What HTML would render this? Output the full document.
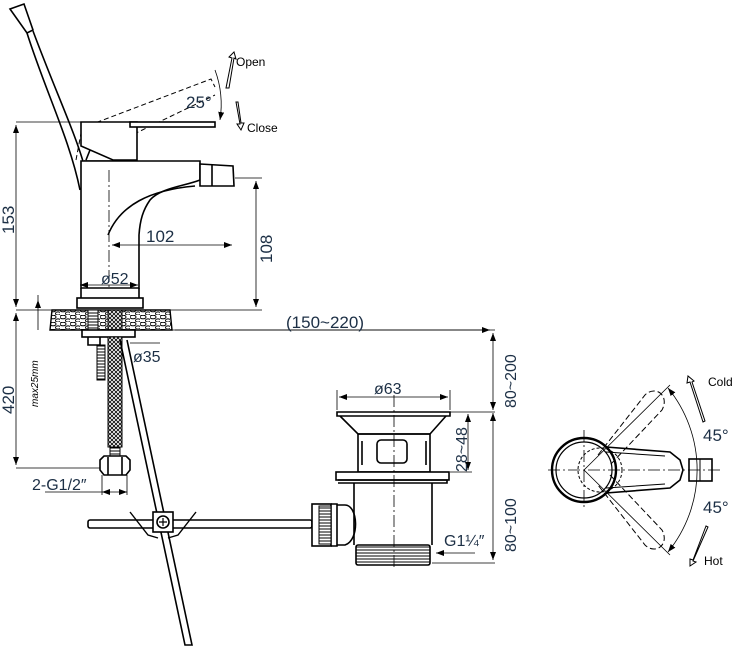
<!DOCTYPE html>
<html><head><meta charset="utf-8"><style>
html,body{margin:0;padding:0;background:#fff;}
svg{display:block;}
text{font-family:"Liberation Sans",sans-serif;fill:#1c2f45;}
</style></head><body>
<svg width="732" height="647" viewBox="0 0 732 647" xmlns="http://www.w3.org/2000/svg">
<defs>
<marker id="a" markerWidth="8" markerHeight="6" refX="8" refY="3" orient="auto-start-reverse" markerUnits="userSpaceOnUse"><path d="M0,0 L8,3 L0,6 z" fill="#000"/></marker>
<pattern id="st" width="10" height="7" patternUnits="userSpaceOnUse"><rect width="10" height="7" fill="#fff"/><ellipse cx="3" cy="2" rx="3" ry="1.8" fill="none" stroke="#000" stroke-width="1"/><ellipse cx="8" cy="5.5" rx="2.5" ry="1.6" fill="none" stroke="#000" stroke-width="1"/></pattern>
<pattern id="br" width="4" height="4" patternUnits="userSpaceOnUse"><rect width="4" height="4" fill="#fff"/><path d="M0,4 L4,0 M0,0 L4,4" stroke="#000" stroke-width="0.8"/></pattern>
<pattern id="th" width="4" height="3" patternUnits="userSpaceOnUse"><rect width="4" height="3" fill="#fff"/><path d="M0,1 H4" stroke="#000" stroke-width="1"/></pattern>
</defs>
<g fill="none" stroke="#000" stroke-width="1.6">
<!-- lever handle -->
<path d="M10,9 L24,4 L33,30 L27,33 Z" fill="#fff"/>
<path d="M27,33 C45,90 70,140 80,190 M33,31 C55,90 76,135 84,165"/>
<!-- dashed rotated lever -->
<path d="M76,160 L82,128 L211,79 L215,87 M105,148 L215,95" stroke-dasharray="5,3" stroke-width="1"/>
<path d="M100,150 L135,140" stroke-dasharray="5,3" stroke-width="1"/>
<!-- lever box -->
<path d="M81,122 L137,122 L137,160 L113,160 L81,146 Z" fill="#fff"/>
<rect x="130" y="122" width="85" height="5" fill="#fff"/>
<path d="M86,160 L90,150 M84,161 L135,161"/>
<!-- body -->
<path d="M81,161 L200,161 L200,180 C185,186 160,188 150,200 C143,210 140,220 139,235 L139,288 L81,288 Z" fill="#fff"/>
<path d="M108,235 C120,205 150,190 195,186"/>
<path d="M200,164 L233,166 L234,186 L200,186 Z" fill="#fff"/>
<path d="M212,165 L212,186"/>
<rect x="77" y="298" width="66" height="10" fill="#fff"/>
<path d="M81,288 L81,298 M139,288 L139,298"/>
<!-- stone -->
<path d="M52,310 L170,310 L172,330 L50,330 Z" fill="url(#st)" stroke-width="1.4"/>
<rect x="88" y="310" width="10" height="20" fill="url(#th)" stroke-width="1"/>
<rect x="108" y="310" width="14" height="20" fill="url(#br)" stroke-width="1"/>
<rect x="82" y="330" width="53" height="7" fill="#fff"/>
<path d="M88,337 L88,345 L100,345 L100,337"/>
<rect x="97" y="345" width="8" height="35" fill="url(#th)" stroke-width="1"/>
<!-- braided hose -->
<rect x="108" y="337" width="14" height="110" fill="url(#br)" stroke-width="1"/>
<rect x="110" y="447" width="10" height="10" fill="url(#th)" stroke-width="1"/>
<path d="M100,460 L104,456 L126,456 L130,460 L130,470 L126,475 L104,475 L100,470 Z" fill="#fff"/>
<path d="M108,457 L108,475 M122,457 L122,475"/>
<!-- diagonal rod -->
<path d="M120,340 L185,645 L192,645 L127,340"/>
<!-- horizontal rod -->
<rect x="88" y="520" width="224" height="8" rx="2" fill="#fff"/>
<!-- clamp -->
<path d="M130,512 L148,535 L158,538 M196,512 L178,535 L168,538" stroke-width="1.4"/>
<rect x="153" y="512" width="20" height="20" fill="#fff"/>
<circle cx="163" cy="522" r="6"/>
<path d="M159,522 H167 M163,518 V526" stroke-width="1.2"/>
<!-- drain -->
<path d="M337,412 L450,412 L450,416 L337,416 Z" fill="#fff"/>
<path d="M340,416 L358,434 L430,434 L446,416"/>
<rect x="358" y="434" width="72" height="38"/>
<rect x="377" y="440" width="30" height="23" rx="4"/>
<path d="M362,441 L362,465 M426,441 L426,465"/>
<rect x="336" y="472" width="113" height="8" fill="#fff"/>
<path d="M338,480 L447,480 L447,483 L338,483"/>
<path d="M354,483 L354,545 M432,483 L432,545"/>
<rect x="356" y="545" width="74" height="20" rx="2" fill="url(#th)"/>
<path d="M337,505 L345,505 C358,505 360,540 345,545 L337,545"/>
<rect x="312" y="504" width="19" height="42" fill="#fff"/>
<rect x="319" y="506" width="12" height="38" fill="url(#th)" stroke-width="1"/>
<path d="M331,504 L337,504 L337,546 L331,546"/>
<!-- top view -->
<circle cx="584" cy="470" r="32" stroke-width="2.4"/>
<circle cx="584" cy="470" r="28" stroke-width="1.2"/>
<path d="M606,447 L670,452 L680,460 L683,470 L680,480 L670,488 L606,493"/>
<path d="M606,452 L665,456 M606,488 L665,484" stroke-width="1"/>
<rect x="689" y="459" width="23" height="22" fill="#fff"/>
<path d="M700,459 L700,481" stroke-width="1"/>
<circle cx="600" cy="470" r="22" stroke-dasharray="3,2" stroke-width="1"/>
<path d="M598,455 L645,395 C655,385 670,395 662,410 L610,465 M610,475 L662,530 C670,545 655,555 645,545 L598,485" stroke-dasharray="6,3" stroke-width="1"/>
<path d="M584,470 L670,385 M584,470 L670,555" stroke-width="0.8"/>
<path d="M668,388 A130,130 0 0 1 668,552" stroke-width="0.8" marker-start="url(#a)" marker-end="url(#a)"/>
</g>
<!-- centerlines & dim lines -->
<g fill="none" stroke="#000" stroke-width="0.8">
<path d="M109,170 V290 M584,430 V510 M548,470 H720 M394,395 V570" stroke-dasharray="12,3,2,3"/>
<path d="M16,122 H81 M16,310 H52 M16,468 H100 M170,310 H262 M235,178 H262 M170,330 H495 M430,412 H495 M432,563 H495"/>
<path d="M16,125 V307" marker-start="url(#a)" marker-end="url(#a)"/>
<path d="M16,313 V465" marker-start="url(#a)" marker-end="url(#a)"/>
<path d="M256,181 V307" marker-start="url(#a)" marker-end="url(#a)"/>
<path d="M112,245 H232" marker-start="url(#a)" marker-end="url(#a)"/>
<path d="M80,285 H138" marker-start="url(#a)" marker-end="url(#a)"/>
<path d="M175,330 H490" marker-end="url(#a)"/>
<path d="M493,333 V410" marker-start="url(#a)" marker-end="url(#a)"/>
<path d="M493,413 V560" marker-start="url(#a)" marker-end="url(#a)"/>
<path d="M468,414 V470" marker-start="url(#a)" marker-end="url(#a)"/>
<path d="M450,472 H472"/>
<path d="M339,397 H448" marker-start="url(#a)" marker-end="url(#a)"/>
<path d="M337,390 V410 M450,390 V410"/>
<path d="M102,492 H127" marker-start="url(#a)" marker-end="url(#a)"/>
<path d="M45,492 H102 M102,475 V495 M127,475 V495"/>
<path d="M130,343 H160"/>
<path d="M38,295 V330 M38,330 V300" marker-end="url(#a)"/>
<path d="M436,553 H475" marker-start="url(#a)"/>
<path d="M215,70 A100,100 0 0 1 220,120" marker-end="url(#a)"/>
</g>
<!-- open/close arrows -->
<g fill="#fff" stroke="#000" stroke-width="1">
<path d="M226,88 L232,58 L229,57 L234,52 L236,59 L234,58 L229,88 Z"/>
<path d="M236,102 L240,124 L237,124 L241,130 L244,123 L241,123 L238,102 Z"/>
<path d="M703,422 L690,382 L687,383 L688,376 L694,381 L692,382 L705,421 Z"/>
<path d="M706,526 L693,560 L690,559 L690,566 L696,562 L693,561 L708,527 Z"/>
</g>
<g font-size="17">
<text x="186" y="108">25°</text>
<text x="146" y="242">102</text>
<text x="101" y="284" font-size="16">ø52</text>
<text transform="translate(14,234) rotate(-90)">153</text>
<text transform="translate(272,263) rotate(-90)">108</text>
<text transform="translate(14,414) rotate(-90)">420</text>
<text x="286" y="328">(150~220)</text>
<text x="133" y="362" font-size="16">ø35</text>
<text x="32" y="490" font-size="16">2-G1/2″</text>
<text x="374" y="394" font-size="16">ø63</text>
<text transform="translate(467,472) rotate(-90)" font-size="16">28~48</text>
<text transform="translate(516,408) rotate(-90)" font-size="16">80~200</text>
<text transform="translate(516,552) rotate(-90)" font-size="16">80~100</text>
<text x="444" y="546" font-size="16">G1¼″</text>
<text x="703" y="441">45°</text>
<text x="703" y="513">45°</text>
</g>
<g font-size="12">
<text x="236" y="66" style="fill:#000">Open</text>
<text x="247" y="132" style="fill:#000">Close</text>
<text x="708" y="386" style="fill:#000">Cold</text>
<text x="704" y="565" style="fill:#000">Hot</text>
<text transform="translate(38,407) rotate(-90)" font-size="10" font-style="italic" font-family="Liberation Serif" style="fill:#000">max25mm</text>
</g>
</svg>
</body></html>
